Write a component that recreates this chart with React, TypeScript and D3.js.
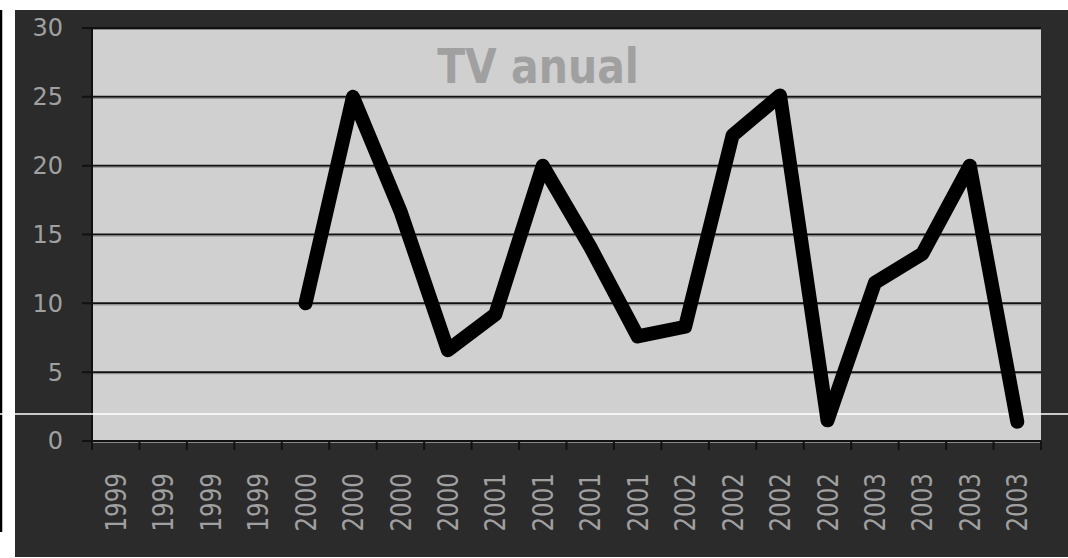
import React from "react";
import * as d3 from "d3";

const categories: string[] = [
  "1999", "1999", "1999", "1999",
  "2000", "2000", "2000", "2000",
  "2001", "2001", "2001", "2001",
  "2002", "2002", "2002", "2002",
  "2003", "2003", "2003", "2003",
];
const values: (number | null)[] = [
  null, null, null, null,
  10, 25, 16.7, 6.6,
  9.2, 20, 14.1, 7.6,
  8.3, 22.2, 25.1, 1.5,
  11.5, 13.6, 20, 1.4,
];
const yTicks: number[] = [0, 5, 10, 15, 20, 25, 30];
const title = "TV anual";

const W = 1068, H = 558;
const plot = { left: 92, right: 1041, top: 28, bottom: 441 };

export default function App() {
  const x = d3.scaleBand<number>()
    .domain(categories.map((_, i) => i))
    .range([plot.left, plot.right])
    .paddingInner(0).paddingOuter(0);
  const y = d3.scaleLinear().domain([0, 30]).range([plot.bottom, plot.top]);
  const line = d3.line<number | null>()
    .defined(d => d !== null)
    .x((_, i) => (x(i) as number) + x.bandwidth() / 2)
    .y(d => y(d as number));
  const boundaries = d3.range(categories.length + 1).map(i => plot.left + i * x.bandwidth());
  const font = "'DejaVu Sans', Verdana, sans-serif";
  return (
    <svg width={W} height={H} style={{ position: "absolute", left: 0, top: 0, background: "#fff" }}>
      <rect x={15} y={10} width={W - 15} height={547} fill="#2b2b2b" />
      <line x1={1} x2={1} y1={10} y2={532} stroke="#000" strokeWidth={2.5} />
      <rect x={plot.left} y={plot.top} width={plot.right - plot.left} height={plot.bottom - plot.top} fill="#d0d0d0" />
      {yTicks.map(t => (
        <g key={t}>
          <line x1={82} x2={plot.right} y1={y(t)} y2={y(t)} stroke="#111" strokeWidth={2} />
          <line x1={plot.left} x2={plot.right} y1={y(t) + 1.5} y2={y(t) + 1.5} stroke="#888" strokeWidth={1} />
          <text x={63} y={y(t)} dy="0.35em" textAnchor="end" fill="#a0a0a0" fontFamily={font} fontSize={24}>{t}</text>
        </g>
      ))}
      <line x1={plot.left} x2={plot.left} y1={plot.top} y2={plot.bottom + 9} stroke="#111" strokeWidth={2} />
      {boundaries.map((bx, i) => (
        <line key={i} x1={bx} x2={bx} y1={plot.bottom} y2={plot.bottom + 9} stroke="#111" strokeWidth={2} />
      ))}
      {categories.map((c, i) => {
        const cx = (x(i) as number) + x.bandwidth() / 2;
        return (
          <text key={i} transform={`translate(${cx},473) rotate(-90) scale(1,1.25)`} textAnchor="end" dy="0.35em"
            fill="#a0a0a0" fontFamily={font} fontSize={23}>{c}</text>
        );
      })}
      <line x1={0} x2={W} y1={414} y2={414} stroke="#fff" strokeWidth={1.5} />
      <path d={line(values) || ""} fill="none" stroke="#000" strokeWidth={14} strokeLinejoin="round" strokeLinecap="round" />
      <text transform="translate(538,83) scale(1,1.15)" textAnchor="middle" fill="#a0a0a0" fontFamily={font} fontWeight="bold" fontSize={41}>{title}</text>
    </svg>
  );
}
